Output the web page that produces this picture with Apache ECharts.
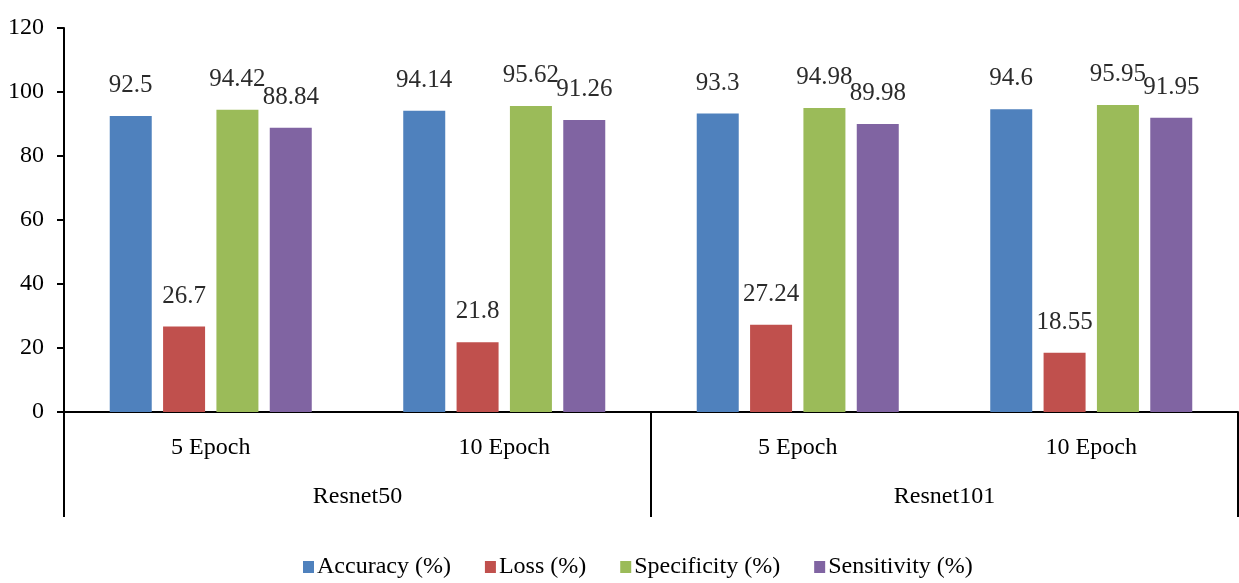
<!DOCTYPE html>
<html>
<head>
<meta charset="utf-8">
<title>ResNet training results</title>
<script src="https://cdn.jsdelivr.net/npm/echarts@6/dist/echarts.min.js"></script>
<style>
  html, body { margin: 0; padding: 0; background: #fff; }
  #chart { width: 1239px; height: 583px; }
</style>
</head>
<body>
<div id="chart"></div>
<script>
// Epoch settings (inner axis level) and backbone models (outer axis level)
const epochs = ['5 Epoch', '10 Epoch', '5 Epoch', '10 Epoch'];
const models = ['Resnet50', 'Resnet101'];

// Metric values per epoch setting, in percent
const accuracy    = [92.5, 94.14, 93.3, 94.6];
const loss        = [26.7, 21.8, 27.24, 18.55];
const specificity = [94.42, 95.62, 94.98, 95.95];
const sensitivity = [88.84, 91.26, 89.98, 91.95];

const seriesNames = ['Accuracy (%)', 'Loss (%)', 'Specificity (%)', 'Sensitivity (%)'];

// Value axis range
const yMin = 0, yMax = 120, yStep = 20;

const FONT = '"Liberation Serif", "Times New Roman", serif';
const palette = ['#4F81BD', '#C0504D', '#9BBB59', '#8064A2'];

const makeSeries = (name, values, color) => ({
  name: name,
  type: 'bar',
  xAxisIndex: 0,
  yAxisIndex: 0,
  data: values,
  barWidth: 42,
  barGap: '27%',
  itemStyle: { color: color },
  label: {
    show: true,
    position: 'top',
    distance: 18,
    fontFamily: FONT,
    fontSize: 25,
    color: '#2b2b2b'
  }
});

const chart = echarts.init(document.getElementById('chart'), null, { renderer: 'canvas' });

chart.setOption({
  animation: false,
  backgroundColor: '#ffffff',
  color: palette,
  grid: { left: 64, right: 1, top: 28, bottom: 171, containLabel: false },
  legend: {
    top: 550,
    left: 298,
    itemWidth: 11,
    itemHeight: 12,
    itemGap: 34,
    icon: 'rect',
    textStyle: { fontFamily: FONT, fontSize: 24, color: '#000', padding: [0, 0, 0, -2] },
    data: seriesNames
  },
  xAxis: [
    {
      type: 'category',
      data: epochs,
      position: 'bottom',
      axisLine: { show: true, lineStyle: { color: '#000', width: 2 } },
      axisTick: { show: false },
      axisLabel: { margin: 24, fontFamily: FONT, fontSize: 24, color: '#000' },
      splitLine: { show: false }
    },
    {
      type: 'category',
      data: models,
      position: 'bottom',
      axisLine: { show: false },
      axisTick: { show: true, length: 105, lineStyle: { color: '#000', width: 2 } },
      axisLabel: { margin: 73, fontFamily: FONT, fontSize: 24, color: '#000' },
      splitLine: { show: false }
    }
  ],
  yAxis: {
    type: 'value',
    min: yMin,
    max: yMax,
    interval: yStep,
    axisLine: { show: true, lineStyle: { color: '#000', width: 2 } },
    axisTick: { show: true, inside: false, length: 7, lineStyle: { color: '#000', width: 2 } },
    axisLabel: { margin: 20, fontFamily: FONT, fontSize: 24, color: '#000' },
    splitLine: { show: false }
  },
  series: [
    makeSeries(seriesNames[0], accuracy, palette[0]),
    makeSeries(seriesNames[1], loss, palette[1]),
    makeSeries(seriesNames[2], specificity, palette[2]),
    makeSeries(seriesNames[3], sensitivity, palette[3])
  ]
});
</script>
</body>
</html>
